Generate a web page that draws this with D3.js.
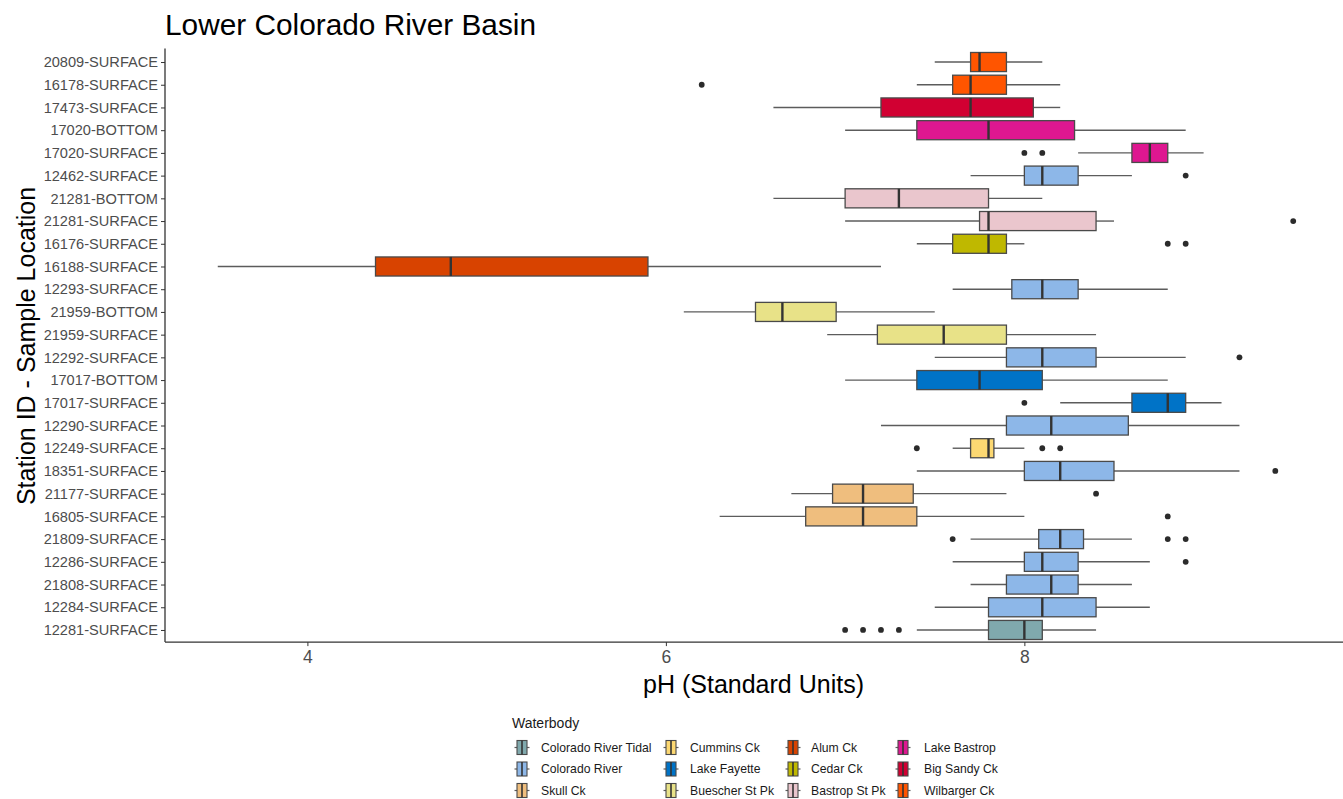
<!DOCTYPE html>
<html>
<head>
<meta charset="utf-8">
<script src="https://cdn.jsdelivr.net/npm/d3@7"></script>
<style>
  html, body { margin: 0; padding: 0; background: #ffffff; }
  svg { display: block; font-family: "Liberation Sans", Arial, Helvetica, sans-serif; }
</style>
</head>
<body>
<svg id="chart" width="1343" height="799"></svg>
<script>
// Station / sample location, listed top to bottom
const stations = [
  "20809-SURFACE", "16178-SURFACE", "17473-SURFACE", "17020-BOTTOM", "17020-SURFACE",
  "12462-SURFACE", "21281-BOTTOM", "21281-SURFACE", "16176-SURFACE", "16188-SURFACE",
  "12293-SURFACE", "21959-BOTTOM", "21959-SURFACE", "12292-SURFACE", "17017-BOTTOM",
  "17017-SURFACE", "12290-SURFACE", "12249-SURFACE", "18351-SURFACE", "21177-SURFACE",
  "16805-SURFACE", "21809-SURFACE", "12286-SURFACE", "21808-SURFACE", "12284-SURFACE",
  "12281-SURFACE"
];

// Waterbody of each station
const stationWaterbody = [
  "Wilbarger Ck", "Wilbarger Ck", "Big Sandy Ck", "Lake Bastrop", "Lake Bastrop",
  "Colorado River", "Bastrop St Pk", "Bastrop St Pk", "Cedar Ck", "Alum Ck",
  "Colorado River", "Buescher St Pk", "Buescher St Pk", "Colorado River", "Lake Fayette",
  "Lake Fayette", "Colorado River", "Cummins Ck", "Colorado River", "Skull Ck",
  "Skull Ck", "Colorado River", "Colorado River", "Colorado River", "Colorado River",
  "Colorado River Tidal"
];

// Box statistics (pH)
const whiskerLow  = [7.5, 7.4, 6.6, 7.0, 8.3, 7.7, 6.6, 7.0, 7.4, 3.5, 7.6, 6.1, 6.9, 7.5, 7.0, 8.2, 7.2, 7.6, 7.4, 6.7, 6.3, 7.7, 7.6, 7.7, 7.5, 7.4];
const q1          = [7.7, 7.6, 7.2, 7.4, 8.6, 8.0, 7.0, 7.75, 7.6, 4.38, 7.93, 6.5, 7.18, 7.9, 7.4, 8.6, 7.9, 7.7, 8.0, 6.93, 6.78, 8.08, 8.0, 7.9, 7.8, 7.8];
const median      = [7.75, 7.7, 7.7, 7.8, 8.7, 8.1, 7.3, 7.8, 7.8, 4.8, 8.1, 6.65, 7.55, 8.1, 7.75, 8.8, 8.15, 7.8, 8.2, 7.1, 7.1, 8.2, 8.1, 8.15, 8.1, 8.0];
const q3          = [7.9, 7.9, 8.05, 8.28, 8.8, 8.3, 7.8, 8.4, 7.9, 5.9, 8.3, 6.95, 7.9, 8.4, 8.1, 8.9, 8.58, 7.83, 8.5, 7.38, 7.4, 8.33, 8.3, 8.3, 8.4, 8.1];
const whiskerHigh = [8.1, 8.2, 8.2, 8.9, 9.0, 8.6, 8.1, 8.5, 8.0, 7.2, 8.8, 7.5, 8.4, 8.9, 8.8, 9.1, 9.2, 8.0, 9.2, 7.9, 8.0, 8.6, 8.7, 8.6, 8.7, 8.4];
const outliers = [
  [], [6.2], [], [], [8.0, 8.1],
  [8.9], [], [9.5], [8.8, 8.9], [],
  [], [], [], [9.2], [],
  [8.0], [], [7.4, 8.1, 8.2], [9.4], [8.4],
  [8.8], [7.6, 8.8, 8.9], [8.9], [], [],
  [7.0, 7.1, 7.2, 7.3]
];

// Waterbody legend order and fill colours
const waterbodies = [
  "Colorado River Tidal", "Colorado River", "Skull Ck",
  "Cummins Ck", "Lake Fayette", "Buescher St Pk",
  "Alum Ck", "Cedar Ck", "Bastrop St Pk",
  "Lake Bastrop", "Big Sandy Ck", "Wilbarger Ck"
];
const waterbodyColors = [
  "#80a9ad", "#8db7e8", "#efbe7e",
  "#fcd872", "#0073c7", "#e8e288",
  "#d84300", "#bfb800", "#eac6cd",
  "#de1790", "#d10032", "#ff5500"
];

const xTicks = [4, 6, 8];

const svg = d3.select("#chart");
const W = 1343, H = 799;
const panel = { left: 164, right: 1347, top: 48.4, bottom: 643.6 };

const x = d3.scaleLinear().domain([3.2, 9.8]).range([panel.left, panel.right]);
const y = d3.scalePoint().domain(stations).range([panel.top, panel.bottom]).padding(0.6);
const color = d3.scaleOrdinal().domain(waterbodies).range(waterbodyColors);

const boxH = y.step() * 0.84;

const rows = stations.map((s, i) => ({
  station: s, wb: stationWaterbody[i],
  lo: whiskerLow[i], q1: q1[i], med: median[i], q3: q3[i], hi: whiskerHigh[i],
  out: outliers[i]
}));

// Title
svg.append("text")
  .attr("x", 165).attr("y", 35)
  .attr("font-size", 29.8).attr("fill", "#000")
  .text("Lower Colorado River Basin");

// Boxes
const g = svg.append("g");
const row = g.selectAll("g.row").data(rows).join("g").attr("class", "row")
  .attr("transform", d => `translate(0,${y(d.station)})`);

row.append("line").attr("class", "wlo")
  .attr("x1", d => x(d.lo)).attr("x2", d => x(d.q1))
  .attr("stroke", "#5c5c5c").attr("stroke-width", 1.4);
row.append("line").attr("class", "whi")
  .attr("x1", d => x(d.q3)).attr("x2", d => x(d.hi))
  .attr("stroke", "#5c5c5c").attr("stroke-width", 1.4);
row.append("rect")
  .attr("x", d => x(d.q1)).attr("width", d => x(d.q3) - x(d.q1))
  .attr("y", -boxH / 2).attr("height", boxH)
  .attr("fill", d => color(d.wb))
  .attr("stroke", "#4a4a4a").attr("stroke-width", 1.3);
row.append("line")
  .attr("x1", d => x(d.med)).attr("x2", d => x(d.med))
  .attr("y1", -boxH / 2).attr("y2", boxH / 2)
  .attr("stroke", "#333").attr("stroke-width", 2.4);
row.selectAll("circle").data(d => d.out).join("circle")
  .attr("cx", v => x(v)).attr("cy", 0).attr("r", 2.9)
  .attr("fill", "#2b2b2b");

// Y axis
const yAxisG = svg.append("g").attr("transform", `translate(${panel.left + 1},0)`)
  .call(d3.axisLeft(y).tickSize(4).tickPadding(3));
yAxisG.select(".domain").attr("stroke", "#333").attr("stroke-width", 1.3)
  .attr("d", `M0,${panel.top}V${panel.bottom - 1.5}`);
yAxisG.selectAll(".tick line").attr("stroke", "#333");
yAxisG.selectAll(".tick text").attr("fill", "#4d4d4d").attr("font-size", 14.6)
  .attr("font-family", "Liberation Sans, Arial, sans-serif");

// X axis
const xAxisG = svg.append("g").attr("transform", `translate(0,${panel.bottom - 1.5})`)
  .call(d3.axisBottom(x).tickValues(xTicks).tickFormat(d3.format("d")).tickSize(4).tickPadding(4));
xAxisG.select(".domain").attr("stroke", "#333").attr("stroke-width", 1.3)
  .attr("d", `M${panel.left + 1},0H${W}`);
xAxisG.selectAll(".tick line").attr("stroke", "#333");
xAxisG.selectAll(".tick text").attr("fill", "#4d4d4d").attr("font-size", 17.5)
  .attr("font-family", "Liberation Sans, Arial, sans-serif");

// Axis titles
svg.append("text")
  .attr("x", (panel.left + W) / 2).attr("y", 693)
  .attr("text-anchor", "middle").attr("font-size", 25).attr("fill", "#000")
  .text("pH (Standard Units)");
svg.append("text")
  .attr("transform", `translate(35,${(panel.top + panel.bottom) / 2}) rotate(-90)`)
  .attr("text-anchor", "middle").attr("font-size", 25).attr("fill", "#000")
  .text("Station ID - Sample Location");

// Legend
const legend = svg.append("g");
legend.append("text").attr("x", 512).attr("y", 728)
  .attr("font-size", 14).attr("fill", "#1a1a1a").text("Waterbody");

const colX = [522, 671, 793, 903];
const labX = [541, 690, 811, 924];
const rowY = [747.5, 769, 790.5];
const items = legend.selectAll("g.item").data(waterbodies).join("g").attr("class", "item")
  .attr("transform", (d, i) => `translate(${colX[Math.floor(i / 3)]},${rowY[i % 3]})`);
items.append("line").attr("x1", -7.5).attr("x2", 7.5)
  .attr("stroke", "#5c5c5c").attr("stroke-width", 1.2);
items.append("rect").attr("x", -5).attr("y", -7).attr("width", 10).attr("height", 14)
  .attr("fill", d => color(d)).attr("stroke", "#4a4a4a").attr("stroke-width", 1.1);
items.append("line").attr("y1", -7).attr("y2", 7)
  .attr("stroke", "#333").attr("stroke-width", 1.6);
items.append("text")
  .attr("x", (d, i) => labX[Math.floor(i / 3)] - colX[Math.floor(i / 3)])
  .attr("dy", "0.35em").attr("font-size", 12.2).attr("fill", "#1a1a1a")
  .text(d => d);
</script>
</body>
</html>
